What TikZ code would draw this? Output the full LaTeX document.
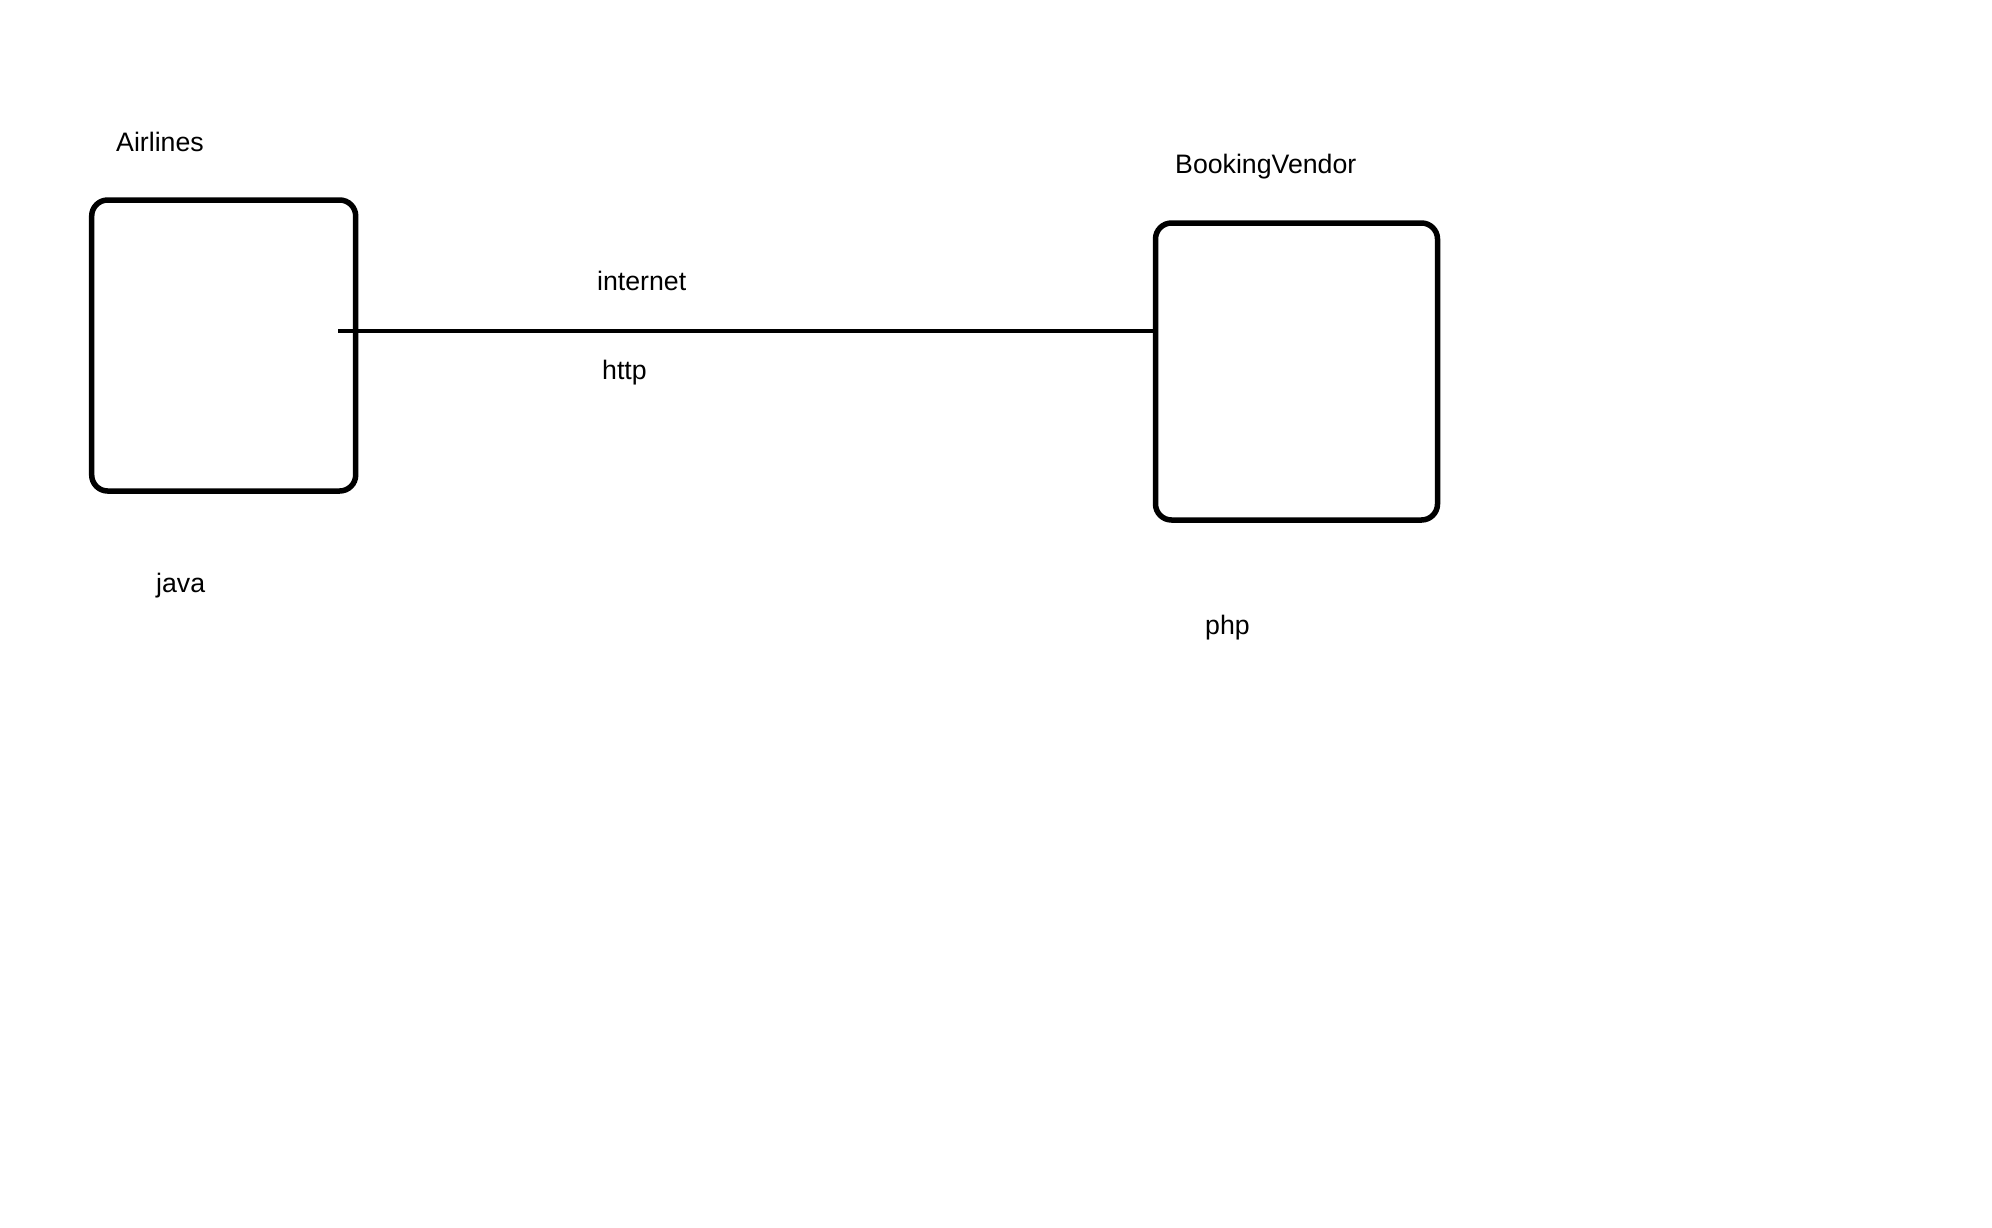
\documentclass[tikz,border=0pt]{standalone}
\usepackage{fontspec}
\setmainfont{Liberation Sans}
\begin{document}
\begin{tikzpicture}[x=1pt,y=-1pt,
  sysbox/.style={draw,line width=5.5pt,rounded corners=16pt,inner sep=0pt,fill=none},
  lbl/.style={anchor=base west,inner sep=0pt,font=\fontsize{26.7}{32}\selectfont},
  link/.style={line width=4.5pt}]
\useasboundingbox[fill=white] (0,0) rectangle (1992,1227);
\node[sysbox,minimum width=264pt,minimum height=291pt] (air) at (223.7,345.5) {};
\node[sysbox,minimum width=282pt,minimum height=297pt] (bv) at (1296.5,371.5) {};
\node[lbl] (tair) at (116,151) {Airlines};
\node[lbl] (tbv) at (1175,173) {BookingVendor};
\node[lbl] (tinet) at (597,290.5) {internet};
\node[lbl] (thttp) at (602,379.5) {http};
\node[lbl] (tjava) at (156,592) {java};
\node[lbl] (tphp) at (1205,634) {php};
\coordinate (s) at (338,331);
\draw[link] (s) -- (s -| bv.west);
\end{tikzpicture}
\end{document}
